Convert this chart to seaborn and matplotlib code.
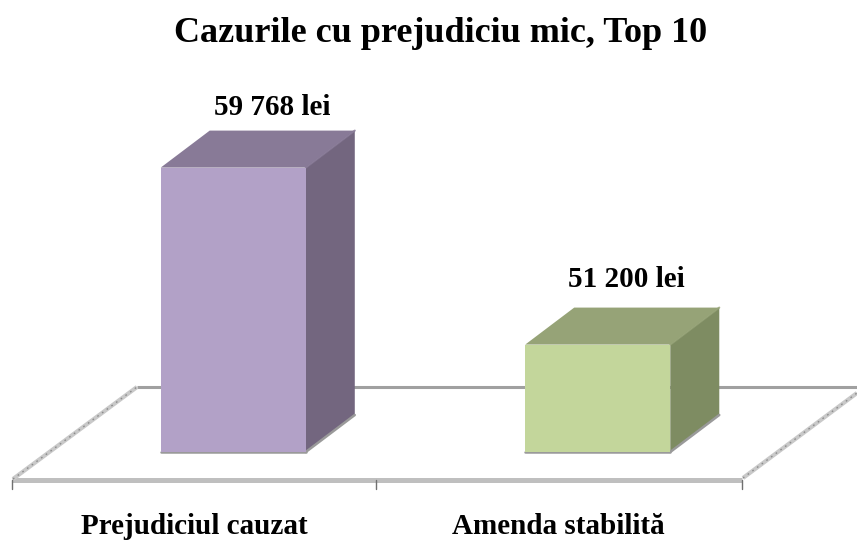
import matplotlib
matplotlib.use('Agg')
import matplotlib.pyplot as plt
import pandas as pd
import seaborn as sns
from matplotlib.patches import Polygon

# date din grafic
categories = ['Prejudiciul cauzat', 'Amenda stabilită']
values = [59768, 51200]
value_labels = ['59 768 lei', '51 200 lei']
title = 'Cazurile cu prejudiciu mic, Top 10'

front_colors = ['#B2A1C7', '#C3D69B']
top_colors = ['#887A97', '#96A377']
side_colors = ['#73667F', '#7E8C62']

W, H = 857, 540
DEPTH_X, DEPTH_Y = 49, 37  # adancimea falsului 3D, in pixeli
LABEL_SHIFT = [(39, 60), (29, 65)]  # eticheta de valoare fata de varful barei


def px_rect(left, top, right, bottom):
    return [left / W, 1 - bottom / H, (right - left) / W, (bottom - top) / H]


sns.set_theme(style='white')
plt.rcParams['font.family'] = ['Liberation Serif', 'DejaVu Serif']

fig = plt.figure(figsize=(W / 100, H / 100), dpi=100)

# strat de fundal in pixeli: podeaua si fetele laterale
bg = fig.add_axes([0, 0, 1, 1], zorder=0)
bg.set_xlim(0, W)
bg.set_ylim(H, 0)
bg.axis('off')

bg.plot([137, 857], [387, 387], color='#A0A0A0', lw=2.2, solid_capstyle='butt')
bg.plot([12, 742], [480, 480], color='#BFBFBF', lw=3.6, solid_capstyle='butt')
for xs, ys in [([13, 137], [479, 387]), ([743, 857], [478, 393])]:
    bg.plot(xs, ys, color='#C9C9C9', lw=3, solid_capstyle='butt')
    bg.plot(xs, ys, color='#8C8C8C', lw=1, ls=(0, (1.2, 3)))
for x in [12, 376, 742]:
    bg.plot([x, x], [480, 489], color='#707070', lw=1)

# barele frontale
ax = fig.add_axes(px_rect(51, 162.8, 780, 452), zorder=1)
ax.patch.set_alpha(0)
df = pd.DataFrame({'categorie': categories, 'valoare': values})
sns.barplot(data=df, x='categorie', y='valoare', hue='categorie', linewidth=0,
            palette=front_colors, saturation=1, width=0.398, legend=False, ax=ax)
ax.set_ylim(46000, 60000)
ax.set_xlim(-0.5, 1.5)
ax.axis('off')

fig.canvas.draw()
to_px = lambda x, y: (x, H - y)
for i, bar in enumerate(ax.patches):
    x0, y1 = to_px(*ax.transData.transform((bar.get_x(), bar.get_height())))
    x1, _ = to_px(*ax.transData.transform((bar.get_x() + bar.get_width(), bar.get_height())))
    _, y0 = to_px(*ax.transData.transform((bar.get_x(), 46000)))
    bg.add_patch(Polygon([(x0, y1), (x1, y1), (x1 + DEPTH_X, y1 - DEPTH_Y), (x0 + DEPTH_X, y1 - DEPTH_Y)],
                         closed=True, fc=top_colors[i], ec='none', zorder=5))
    bg.add_patch(Polygon([(x1, y1), (x1 + DEPTH_X, y1 - DEPTH_Y), (x1 + DEPTH_X, y0 - DEPTH_Y), (x1, y0)],
                         closed=True, fc=side_colors[i], ec='none', zorder=5))
    # muchii mai deschise / umbra de jos
    bg.plot([x1, x1 + DEPTH_X], [y1, y1 - DEPTH_Y], color=top_colors[i], lw=1.5, alpha=0.8, zorder=6)
    bg.plot([x1, x1 + DEPTH_X], [y0, y0 - DEPTH_Y], color='#9A9A9A', lw=1.8, zorder=6)
    bg.plot([x0, x1], [y0, y0], color='#9A9A9A', lw=1.8, zorder=4.5)

    cx = bar.get_x() + bar.get_width() / 2
    ax.annotate(value_labels[i], xy=(cx, values[i]), xytext=LABEL_SHIFT[i],
                textcoords='offset pixels', ha='center', va='center',
                fontsize=21, fontweight='bold', color='black', annotation_clip=False)
    ax.annotate(categories[i], xy=(cx, 46000), xytext=(-39, -74),
                textcoords='offset pixels', ha='center', va='center',
                fontsize=21, fontweight='bold', color='black', annotation_clip=False)

fig.text(441 / W, 1 - 33 / H, title, ha='center', va='center',
         fontsize=26, fontweight='bold', color='black')

fig.savefig('out.png', dpi=100)
